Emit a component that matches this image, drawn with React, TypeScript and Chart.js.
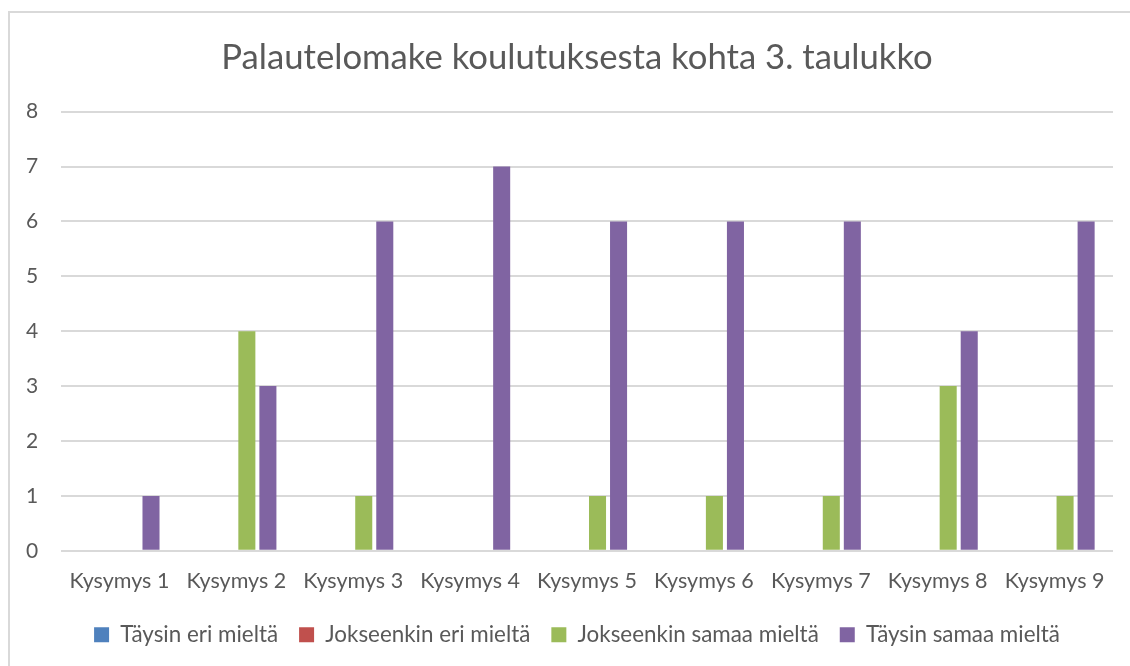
import { useEffect, useRef } from "react";
import { Chart, registerables } from "chart.js";

Chart.register(...registerables);

const categories = [
  "Kysymys 1",
  "Kysymys 2",
  "Kysymys 3",
  "Kysymys 4",
  "Kysymys 5",
  "Kysymys 6",
  "Kysymys 7",
  "Kysymys 8",
  "Kysymys 9",
];
const seriesNames = [
  "Täysin eri mieltä",
  "Jokseenkin eri mieltä",
  "Jokseenkin samaa mieltä",
  "Täysin samaa mieltä",
];
const taysinEri = [0, 0, 0, 0, 0, 0, 0, 0, 0];
const jokseenkinEri = [0, 0, 0, 0, 0, 0, 0, 0, 0];
const jokseenkinSamaa = [0, 4, 1, 0, 1, 1, 1, 3, 1];
const taysinSamaa = [1, 3, 6, 7, 6, 6, 6, 4, 6];
const seriesColors = ["#4f81bd", "#c0504d", "#9bbb59", "#8064a2"];
const yMin = 0;
const yMax = 8;
const yStep = 1;
const titleText = "Palautelomake koulutuksesta kohta 3. taulukko";

const FONT = "Lato, 'Noto Sans', sans-serif";
const TEXT = "#595959";

export default function App() {
  const ref = useRef<HTMLCanvasElement | null>(null);

  useEffect(() => {
    if (!ref.current) return;
    const values = [taysinEri, jokseenkinEri, jokseenkinSamaa, taysinSamaa];
    const chart = new Chart(ref.current, {
      type: "bar",
      data: {
        labels: categories,
        datasets: seriesNames.map((name, i) => ({
          label: name,
          data: values[i],
          backgroundColor: seriesColors[i],
          borderWidth: 0,
          categoryPercentage: 0.72,
          barPercentage: 0.81,
        })),
      },
      options: {
        animation: false,
        responsive: false,
        devicePixelRatio: 1,
        layout: { padding: { left: 41, right: 17, top: 0, bottom: 10 } },
        plugins: {
          title: {
            display: true,
            text: titleText,
            color: TEXT,
            font: { family: FONT, size: 34.7, weight: "normal" },
            padding: { top: 37, bottom: 33 },
          },
          legend: {
            position: "bottom",
            labels: {
              color: TEXT,
              font: { family: FONT, size: 22.4 },
              boxWidth: 15,
              boxHeight: 15,
              padding: 21,
            },
          },
          tooltip: { enabled: false },
        },
        scales: {
          x: {
            grid: { display: false },
            border: { display: false },
            ticks: {
              color: TEXT,
              font: { family: FONT, size: 21.5 },
              padding: 9,
              maxRotation: 0,
              autoSkip: false,
            },
          },
          y: {
            min: yMin,
            max: yMax,
            grid: { color: "#d9d9d9", lineWidth: 2, drawTicks: false },
            border: { display: false },
            ticks: {
              stepSize: yStep,
              color: TEXT,
              font: { family: FONT, size: 21 },
              mirror: true,
              crossAlign: "far",
              padding: -35,
            },
            afterFit: (scale: any) => {
              scale.width = 20;
            },
          },
        },
      },
    });
    return () => chart.destroy();
  }, []);

  return (
    <div style={{ position: "fixed", left: 0, top: 0, width: 1130, height: 666, background: "#fff", overflow: "hidden" }}>
      <div
        style={{
          position: "absolute",
          left: 8,
          top: 11,
          width: 1200,
          height: 700,
          borderLeft: "2px solid #d9d9d9",
          borderTop: "2px solid #d9d9d9",
        }}
      />
      <canvas ref={ref} width={1130} height={666} style={{ position: "absolute", left: 0, top: 0 }} />
    </div>
  );
}
